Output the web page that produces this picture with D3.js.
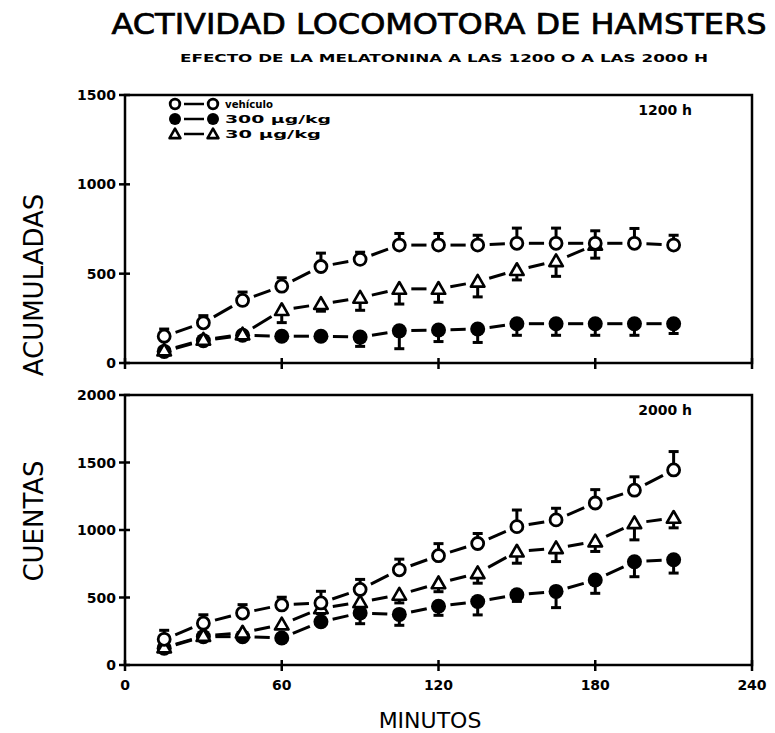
<!DOCTYPE html>
<html>
<head>
<meta charset="utf-8">
<script src="https://cdnjs.cloudflare.com/ajax/libs/d3/7.8.5/d3.min.js"></script>
<style>
  body { margin: 0; background: #fff; }
  svg { display: block; }
  text { font-family: "DejaVu Sans", "Liberation Sans", sans-serif; fill: #000; }
</style>
</head>
<body>
<svg id="chart" width="775" height="733"></svg>
<script>
// minutos
const minutos = [15, 30, 45, 60, 75, 90, 105, 120, 135, 150, 165, 180, 195, 210];

// 1200 h
const vehTop = [150, 225, 350, 430, 540, 580, 660, 660, 660, 670, 670, 670, 670, 660];
const vehTopErr = [40, 40, 47, 47, 75, 40, 65, 65, 55, 85, 85, 70, 83, 55];
const m300Top = [65, 125, 155, 150, 150, 145, 180, 185, 190, 220, 220, 220, 220, 220];
const m300TopErr = [0, 20, 20, 20, 20, 52, 100, 65, 75, 65, 65, 65, 65, 55];
const m30Top = [70, 130, 160, 296, 330, 365, 415, 415, 455, 520, 570, 662];
const m30TopErr = [25, 25, 25, 70, 40, 70, 85, 75, 85, 55, 85, 75];

// 2000 h
const vehBot = [190, 310, 385, 445, 460, 560, 705, 810, 900, 1025, 1075, 1200, 1295, 1445];
const vehBotErr = [67, 62, 62, 57, 86, 74, 79, 89, 74, 123, 86, 99, 99, 136];
const m300Bot = [125, 210, 210, 200, 320, 385, 375, 435, 470, 520, 545, 630, 765, 780];
const m300BotErr = [0, 20, 20, 20, 30, 79, 81, 67, 99, 49, 120, 99, 111, 99];
const m30Bot = [130, 215, 240, 300, 420, 465, 520, 605, 680, 840, 865, 915, 1050, 1090];
const m30BotErr = [30, 30, 30, 30, 40, 40, 60, 62, 74, 86, 99, 74, 123, 74];

const xTicks = [0, 60, 120, 180, 240];
const yTicksTop = [0, 500, 1000, 1500];
const yTicksBot = [0, 500, 1000, 1500, 2000];
const legendLabels = ["vehículo", "300 µg/kg", "30 µg/kg"];

const svg = d3.select("#chart");
svg.append("rect").attr("width", 775).attr("height", 733).attr("fill", "#fff");

const x = d3.scaleLinear().domain([0, 240]).range([125, 752]);

const panels = [
  { y0: 363, y1: 95, max: 1500, ticks: yTicksTop, tag: "1200 h", tagY: 115,
    series: [
      { kind: "fill", vals: m300Top, err: m300TopErr, dir: 1 },
      { kind: "tri", vals: m30Top, err: m30TopErr, dir: 1 },
      { kind: "open", vals: vehTop, err: vehTopErr, dir: -1 }
    ] },
  { y0: 665, y1: 395, max: 2000, ticks: yTicksBot, tag: "2000 h", tagY: 415,
    series: [
      { kind: "fill", vals: m300Bot, err: m300BotErr, dir: 1 },
      { kind: "tri", vals: m30Bot, err: m30BotErr, dir: 1 },
      { kind: "open", vals: vehBot, err: vehBotErr, dir: -1 }
    ] }
];

function marker(g, kind, cx, cy, k = 1) {
  if (kind === "open") {
    g.append("circle").attr("cx", cx).attr("cy", cy).attr("r", 6 * k)
      .attr("fill", "#fff").attr("stroke", "#000").attr("stroke-width", 2.8);
  } else if (kind === "fill") {
    g.append("circle").attr("cx", cx).attr("cy", cy).attr("r", 7.5 * k).attr("fill", "#000");
  } else {
    g.append("path")
      .attr("d", d3.symbol(d3.symbolTriangle, 80 * k * k)())
      .attr("transform", `translate(${cx},${cy + 1})`)
      .attr("fill", "#fff").attr("stroke", "#000").attr("stroke-width", 2.6)
      .attr("stroke-linejoin", "round");
  }
}

panels.forEach(p => {
  const y = d3.scaleLinear().domain([0, p.max]).range([p.y0, p.y1]);
  const g = svg.append("g");

  // marco
  g.append("rect").attr("x", x(0)).attr("y", y(p.max))
    .attr("width", x(240) - x(0)).attr("height", y(0) - y(p.max))
    .attr("fill", "none").attr("stroke", "#000").attr("stroke-width", 2.5);

  p.ticks.forEach(t => {
    g.append("line").attr("x1", x(0) - 6).attr("x2", x(0) + 5)
      .attr("y1", y(t)).attr("y2", y(t)).attr("stroke", "#000").attr("stroke-width", 2.5);
    g.append("text").attr("x", x(0) - 9).attr("y", y(t) + 5)
      .attr("text-anchor", "end").attr("font-size", 14).attr("font-weight", "bold")
      .text(t);
  });
  xTicks.forEach(t => {
    g.append("line").attr("x1", x(t)).attr("x2", x(t))
      .attr("y1", y(0) - 5).attr("y2", y(0) + 6).attr("stroke", "#000").attr("stroke-width", 2.5);
  });

  g.append("text").attr("x", 692).attr("y", p.tagY)
    .attr("text-anchor", "end").attr("font-size", 14).attr("font-weight", "bold")
    .text(p.tag);

  // tramos entre puntos
  p.series.forEach(s => {
    d3.pairs(s.vals.map((v, i) => [x(minutos[i]), y(v)])).forEach(([a, b]) => {
      const dx = b[0] - a[0], dy = b[1] - a[1], len = Math.hypot(dx, dy), gap = 12;
      g.append("line")
        .attr("x1", a[0] + dx * gap / len).attr("y1", a[1] + dy * gap / len)
        .attr("x2", b[0] - dx * gap / len).attr("y2", b[1] - dy * gap / len)
        .attr("stroke", "#000").attr("stroke-width", 3);
    });
  });

  // barras de error
  p.series.forEach(s => {
    s.vals.forEach((v, i) => {
      if (!s.err[i]) return;
      const cx = x(minutos[i]), cy = y(v);
      const end = s.dir > 0 ? y(v - s.err[i]) : y(v + s.err[i]);
      g.append("line").attr("x1", cx).attr("x2", cx).attr("y1", cy).attr("y2", end)
        .attr("stroke", "#000").attr("stroke-width", 3);
      g.append("line").attr("x1", cx - 5).attr("x2", cx + 5).attr("y1", end).attr("y2", end)
        .attr("stroke", "#000").attr("stroke-width", 3);
    });
  });

  p.series.forEach(s => {
    s.vals.forEach((v, i) => marker(g, s.kind, x(minutos[i]), y(v)));
  });
});

xTicks.forEach(t => {
  svg.append("text").attr("x", x(t)).attr("y", 690)
    .attr("text-anchor", "middle").attr("font-size", 14).attr("font-weight", "bold")
    .text(t);
});

// leyenda
const legendKinds = ["open", "fill", "tri"];
const legendLen = [48, 106, 96];
const lg = svg.append("g");
legendKinds.forEach((k, i) => {
  const ly = 104 + i * 15;
  lg.append("line").attr("x1", 184).attr("x2", 204).attr("y1", ly).attr("y2", ly)
    .attr("stroke", "#000").attr("stroke-width", 2.5);
  marker(lg, k, 175, ly, 0.8);
  marker(lg, k, 213, ly, 0.8);
  lg.append("text").attr("x", 225).attr("y", ly + 4)
    .attr("font-size", 11).attr("font-weight", "bold")
    .attr("textLength", legendLen[i]).attr("lengthAdjust", "spacingAndGlyphs")
    .text(legendLabels[i]);
});

// titulos
svg.append("text").attr("x", 439).attr("y", 34).attr("text-anchor", "middle")
  .attr("font-family", "Liberation Sans").attr("font-size", 28)
  .attr("stroke", "#000").attr("stroke-width", 0.7)
  .attr("textLength", 655).attr("lengthAdjust", "spacingAndGlyphs")
  .text("ACTIVIDAD LOCOMOTORA DE HAMSTERS");
svg.append("text").attr("x", 444).attr("y", 62).attr("text-anchor", "middle")
  .attr("font-size", 11).attr("font-weight", "bold")
  .attr("textLength", 528).attr("lengthAdjust", "spacingAndGlyphs")
  .text("EFECTO DE LA MELATONINA A LAS 1200 O A LAS 2000 H");

svg.append("text").attr("transform", "translate(43,285) rotate(-90)")
  .attr("text-anchor", "middle").attr("font-family", "Liberation Sans").attr("font-size", 26)
  .text("ACUMULADAS");
svg.append("text").attr("transform", "translate(43,521) rotate(-90)")
  .attr("text-anchor", "middle").attr("font-family", "Liberation Sans").attr("font-size", 26)
  .text("CUENTAS");
svg.append("text").attr("x", 430).attr("y", 728).attr("text-anchor", "middle")
  .attr("font-family", "Liberation Sans").attr("font-size", 22)
  .text("MINUTOS");
</script>
</body>
</html>
